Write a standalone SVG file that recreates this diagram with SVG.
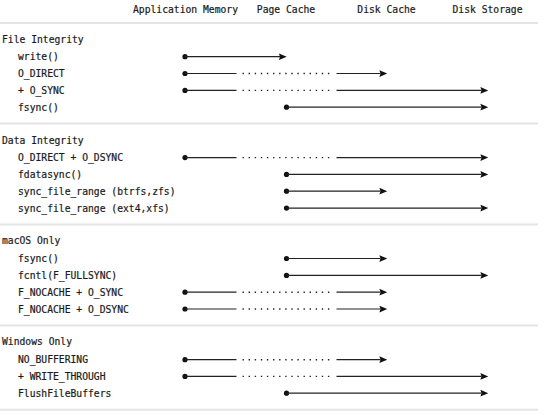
<svg xmlns="http://www.w3.org/2000/svg" width="550" height="418" viewBox="0 0 550 418">
<style>
text{font-family:"DejaVu Sans Mono","Liberation Mono",monospace;font-size:9.7px;fill:#1a1a1a;stroke:#1a1a1a;stroke-width:0.2}
.hd{text-anchor:middle}
.sep{stroke:#e4e4e4;stroke-width:2}
.ln{stroke:#222;stroke-width:1.2;fill:none}
.dt{stroke:#222;stroke-width:1.4;fill:none;stroke-dasharray:1.4 4.7}
.dot{fill:#111}
</style>
<defs>
<marker id="ah" markerUnits="userSpaceOnUse" markerWidth="9" markerHeight="8" viewBox="0 -3.5 8 7" refX="1" refY="0" orient="auto">
<path d="M0,-3 L7,0 L0,3 L1,0 z" fill="#111"/>
</marker>
</defs>
<rect width="550" height="418" fill="#fff"/>
<g id="headers">
<text class="hd" x="185.5" y="13">Application Memory</text>
<text class="hd" x="286" y="13">Page Cache</text>
<text class="hd" x="386.5" y="13">Disk Cache</text>
<text class="hd" x="487.5" y="13">Disk Storage</text>
</g>
<g id="separators">
<line class="sep" x1="0" y1="23" x2="538" y2="23"/>
<line class="sep" x1="0" y1="123.5" x2="538" y2="123.5"/>
<line class="sep" x1="0" y1="224.5" x2="538" y2="224.5"/>
<line class="sep" x1="0" y1="325.5" x2="538" y2="325.5"/>
<line class="sep" x1="0" y1="409.8" x2="538" y2="409.8"/>
</g>
<g id="sec-file"><text x="2" y="43">File Integrity</text></g>
<g id="row-write"><text x="18" y="60">write()</text></g>
<g id="row-odirect"><text x="18" y="76.8">O_DIRECT</text></g>
<g id="row-osync"><text x="18" y="93.7">+ O_SYNC</text></g>
<g id="row-fsync"><text x="18" y="110.5">fsync()</text></g>
<g id="sec-data"><text x="2" y="143.5">Data Integrity</text></g>
<g id="row-odirect-odsync"><text x="18" y="161">O_DIRECT + O_DSYNC</text></g>
<g id="row-fdatasync"><text x="18" y="177.9">fdatasync()</text></g>
<g id="row-sfr-btrfs"><text x="18" y="194.7">sync_file_range (btrfs,zfs)</text></g>
<g id="row-sfr-ext4"><text x="18" y="211.5">sync_file_range (ext4,xfs)</text></g>
<g id="sec-macos"><text x="2" y="243.5">macOS Only</text></g>
<g id="row-mac-fsync"><text x="18" y="262">fsync()</text></g>
<g id="row-fullsync"><text x="18" y="278.9">fcntl(F_FULLSYNC)</text></g>
<g id="row-nocache-sync"><text x="18" y="295.7">F_NOCACHE + O_SYNC</text></g>
<g id="row-nocache-dsync"><text x="18" y="312.5">F_NOCACHE + O_DSYNC</text></g>
<g id="sec-windows"><text x="2" y="345.3">Windows Only</text></g>
<g id="row-nobuffering"><text x="18" y="363.1">NO_BUFFERING</text></g>
<g id="row-writethrough"><text x="18" y="379.9">+ WRITE_THROUGH</text></g>
<g id="row-flush"><text x="18" y="396.8">FlushFileBuffers</text></g>
<g id="connectors">
<circle class="dot" cx="185" cy="56.7" r="2.6"/><path class="ln" d="M185,56.7 H280" marker-end="url(#ah)"/>
<circle class="dot" cx="185" cy="73.5" r="2.6"/><path class="ln" d="M185,73.5 H236.5"/><path class="dt" d="M242.5,73.5 H331"/><path class="ln" d="M336.5,73.5 H380.5" marker-end="url(#ah)"/>
<circle class="dot" cx="185" cy="90.4" r="2.6"/><path class="ln" d="M185,90.4 H236.5"/><path class="dt" d="M242.5,90.4 H331"/><path class="ln" d="M336.5,90.4 H481.5" marker-end="url(#ah)"/>
<circle class="dot" cx="286.5" cy="107.2" r="2.6"/><path class="ln" d="M286.5,107.2 H481.5" marker-end="url(#ah)"/>
<circle class="dot" cx="185" cy="157.6" r="2.6"/><path class="ln" d="M185,157.6 H236.5"/><path class="dt" d="M242.5,157.6 H331"/><path class="ln" d="M336.5,157.6 H481.5" marker-end="url(#ah)"/>
<circle class="dot" cx="286.5" cy="174.4" r="2.6"/><path class="ln" d="M286.5,174.4 H481.5" marker-end="url(#ah)"/>
<circle class="dot" cx="286.5" cy="191.2" r="2.6"/><path class="ln" d="M286.5,191.2 H380.5" marker-end="url(#ah)"/>
<circle class="dot" cx="286.5" cy="208.1" r="2.6"/><path class="ln" d="M286.5,208.1 H481.5" marker-end="url(#ah)"/>
<circle class="dot" cx="286.5" cy="258.5" r="2.6"/><path class="ln" d="M286.5,258.5 H380.5" marker-end="url(#ah)"/>
<circle class="dot" cx="286.5" cy="275.4" r="2.6"/><path class="ln" d="M286.5,275.4 H481.5" marker-end="url(#ah)"/>
<circle class="dot" cx="185" cy="292.2" r="2.6"/><path class="ln" d="M185,292.2 H236.5"/><path class="dt" d="M242.5,292.2 H331"/><path class="ln" d="M336.5,292.2 H380.5" marker-end="url(#ah)"/>
<circle class="dot" cx="185" cy="309" r="2.6"/><path class="ln" d="M185,309 H236.5"/><path class="dt" d="M242.5,309 H331"/><path class="ln" d="M336.5,309 H380.5" marker-end="url(#ah)"/>
<circle class="dot" cx="185" cy="359.7" r="2.6"/><path class="ln" d="M185,359.7 H236.5"/><path class="dt" d="M242.5,359.7 H331"/><path class="ln" d="M336.5,359.7 H380.5" marker-end="url(#ah)"/>
<circle class="dot" cx="185" cy="376.4" r="2.6"/><path class="ln" d="M185,376.4 H236.5"/><path class="dt" d="M242.5,376.4 H331"/><path class="ln" d="M336.5,376.4 H481.5" marker-end="url(#ah)"/>
<circle class="dot" cx="286.5" cy="393.2" r="2.6"/><path class="ln" d="M286.5,393.2 H481.5" marker-end="url(#ah)"/>
</g>
</svg>
